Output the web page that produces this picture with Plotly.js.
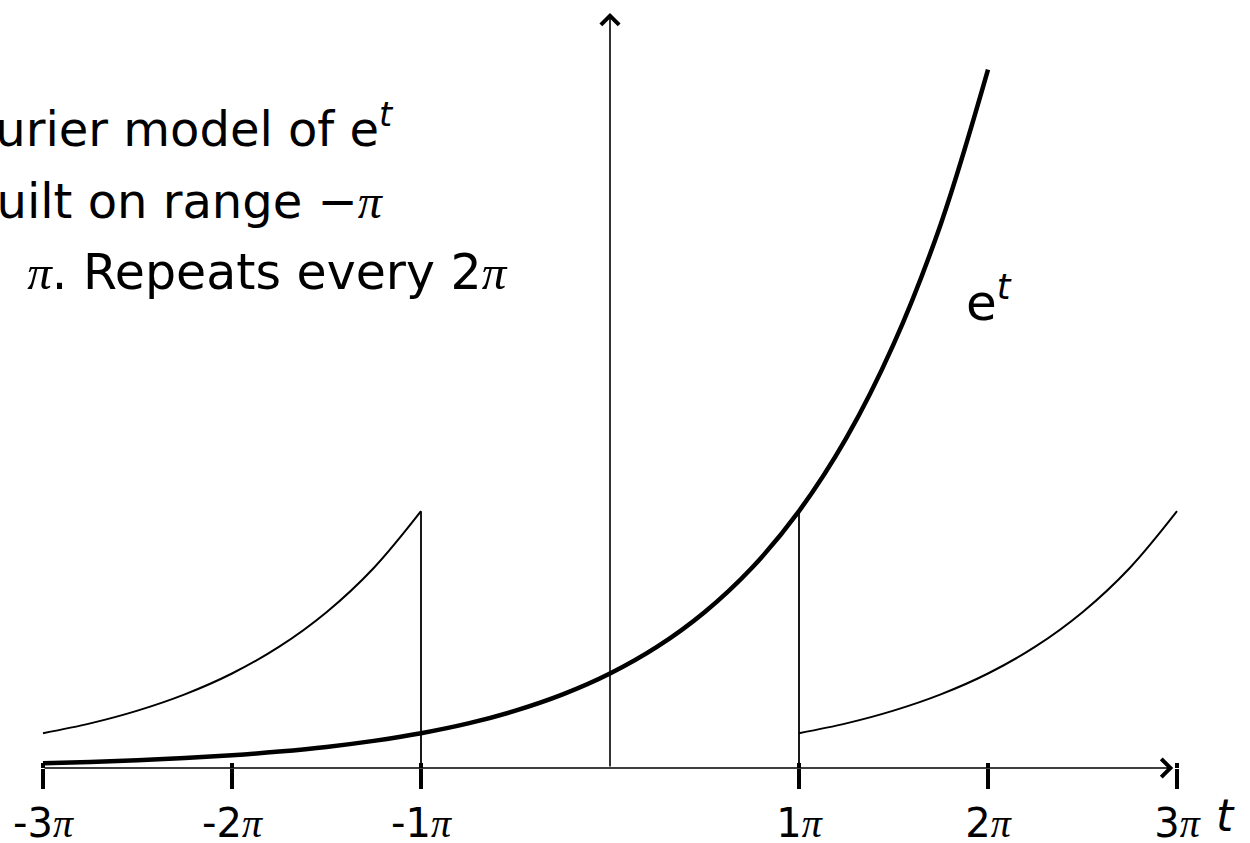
<!DOCTYPE html>
<html><head><meta charset="utf-8">
<script src="https://cdn.plot.ly/plotly-3.0.1.min.js"></script>
<style>html,body{margin:0;padding:0;background:#fff;}#chart{width:1250px;height:843px;}</style>
</head><body><div id="chart"></div>
<script>
// t measured in units of pi
const tMain = [-3,-2.75,-2.5,-2.25,-2,-1.75,-1.5,-1.25,-1,-0.75,-0.5,-0.25,0,0.25,0.5,0.75,1,1.25,1.5,1.75,2];
const yMain = [0.050,0.064,0.082,0.105,0.135,0.174,0.223,0.287,0.368,0.472,0.607,0.779,1.000,1.284,1.649,2.117,2.718,3.490,4.482,5.755,7.389];
const tLeft = [-3,-2.75,-2.5,-2.25,-2,-1.75,-1.5,-1.25,-1];
const yLeft = [0.368,0.472,0.607,0.779,1.000,1.284,1.649,2.117,2.718];
const tRight = [1,1.25,1.5,1.75,2,2.25,2.5,2.75,3];
const yRight = [0.368,0.472,0.607,0.779,1.000,1.284,1.649,2.117,2.718];
const jumpT = [-1, 1];
const jumpTop = [2.718, 2.718];
const tickVals = [-3,-2,-1,1,2,3];
const tickNums = ['-3','-2','-1','1','2','3'];
const axisStart = -3, axisEnd = 2.98, yAxisTop = 7.99;

const PI = '<span style="font-family:Liberation Serif"><i>π</i></span>';
const tickText = tickNums.map(s => s + PI);

const XR = [-3 - 43/189, 3 + 73/189];
const YR = [-75/94.5, 768/94.5];

const traces = [
  {x: tLeft, y: yLeft, mode:'lines', line:{color:'#000', width:2, shape:'spline'}, hoverinfo:'skip'},
  {x: tRight, y: yRight, mode:'lines', line:{color:'#000', width:2, shape:'spline'}, hoverinfo:'skip'},
  {x: [jumpT[0], jumpT[0], null, jumpT[1], jumpT[1]], y: [jumpTop[0], 0, null, 0, jumpTop[1]],
   xaxis:'x2', mode:'lines', line:{color:'#000', width:1.8}, hoverinfo:'skip'},
  {x: tMain, y: yMain, mode:'lines', line:{color:'#000', width:4.5, shape:'spline'}, hoverinfo:'skip'}
];

const F = 'DejaVu Sans';
function py(p){ return 1 - p/843; }
function px(p){ return p/1250; }

const layout = {
  width:1250, height:843,
  margin:{l:0,r:0,t:0,b:0,pad:0},
  paper_bgcolor:'#fff', plot_bgcolor:'#fff',
  showlegend:false,
  xaxis:{range:XR, anchor:'free', position:75/843, showgrid:false, zeroline:false, showline:false,
    ticks:'outside', ticklen:20, tickwidth:4.5, tickcolor:'#000',
    tickvals:tickVals, ticktext:tickText, tickfont:{family:F, size:40, color:'#000'}, automargin:false, fixedrange:true},
  xaxis2:{range:XR, overlaying:'x', anchor:'free', position:75/843, side:'bottom', showgrid:false, zeroline:false, showline:false,
    ticks:'inside', ticklen:5, tickwidth:4.5, tickcolor:'#000', tickvals:tickVals, showticklabels:false, automargin:false},
  yaxis:{range:YR, visible:false, fixedrange:true},
  annotations:[
    {x:axisEnd, y:0, ax:axisStart, ay:0, xref:'x', yref:'y', axref:'x', ayref:'y', text:'', showarrow:true,
     arrowhead:4, arrowsize:2.2, arrowwidth:1.6, arrowcolor:'#000', standoff:0, startstandoff:0},
    {x:0, y:yAxisTop, ax:0, ay:0, xref:'x', yref:'y', axref:'x', ayref:'y', text:'', showarrow:true,
     arrowhead:4, arrowsize:2.2, arrowwidth:1.6, arrowcolor:'#000', standoff:0, startstandoff:0},
    {xref:'paper', yref:'paper', x:px(395), y:py(158), xanchor:'right', yanchor:'bottom', showarrow:false, borderpad:0,
     text:'Fourier model of e<sup><i>t</i></sup>', font:{family:F, size:48, color:'#000'}},
    {xref:'paper', yref:'paper', x:px(385), y:py(230), xanchor:'right', yanchor:'bottom', showarrow:false, borderpad:0,
     text:'built on range −' + PI, font:{family:F, size:48, color:'#000'}},
    {xref:'paper', yref:'paper', x:px(509), y:py(302), xanchor:'right', yanchor:'bottom', showarrow:false, borderpad:0,
     text:'to\u2003' + PI + '. Repeats every 2' + PI, font:{family:F, size:49, color:'#000'}},
    {xref:'paper', yref:'paper', x:px(965), y:py(333), xanchor:'left', yanchor:'bottom', showarrow:false, borderpad:0,
     text:'e<sup><i>t</i></sup>', font:{family:F, size:50, color:'#000'}},
    {xref:'paper', yref:'paper', x:px(1225), y:py(842), xanchor:'center', yanchor:'bottom', showarrow:false, borderpad:0,
     text:'<i>t</i>', font:{family:F, size:44, color:'#000'}}
  ]
};

Plotly.newPlot('chart', traces, layout, {staticPlot:true, displayModeBar:false});
</script>
</body></html>
